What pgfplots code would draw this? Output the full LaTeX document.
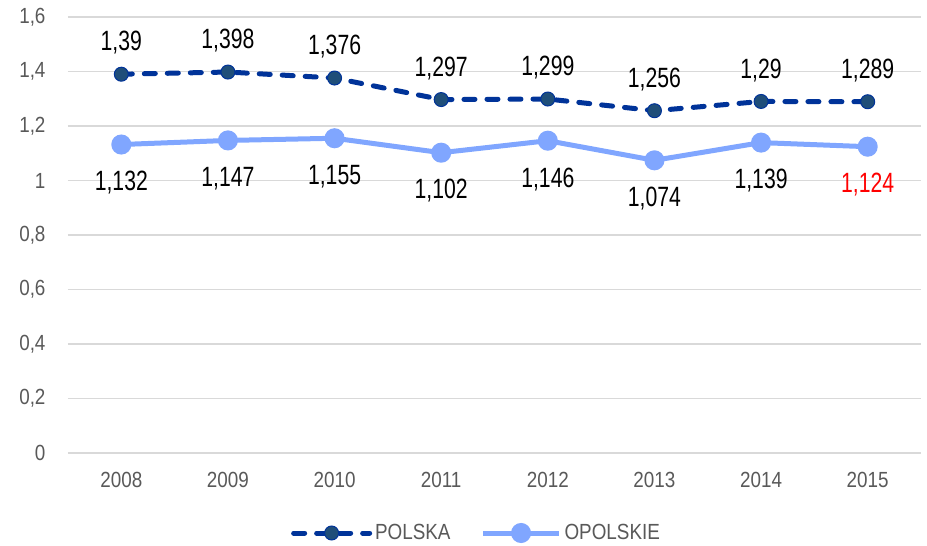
\documentclass[border=0pt]{standalone}
\usepackage{pgfplots}
\pgfplotsset{compat=1.18}
\usepackage{fontspec}
\setmainfont[FakeStretch=0.86]{Liberation Sans}
\newfontfamily\narrowfont[FakeStretch=0.76]{Liberation Sans}
\definecolor{pol}{RGB}{0,51,153}
\definecolor{polfill}{RGB}{31,78,121}
\definecolor{opo}{RGB}{128,166,255}
\definecolor{tickc}{RGB}{89,89,89}
\definecolor{gridc}{RGB}{217,217,217}
\begin{document}
\begin{tikzpicture}[x=1bp,y=1bp]
\begin{axis}[
  at={(0,0)}, anchor=south west,
  scale only axis,
  width=853bp, height=436bp,
  xmin=-0.5, xmax=7.5,
  ymin=0, ymax=1.6,
  xtick={0,...,7},
  xticklabels={2008,2009,2010,2011,2012,2013,2014,2015},
  ytick={0,0.2,...,1.6},
  yticklabels={0,{0,2},{0,4},{0,6},{0,8},1,{1,2},{1,4},{1,6}},
  axis line style={draw=none},
  major tick length=0pt,
  ymajorgrids,
  grid style={gridc, line width=1.2bp},
  tick label style={font=\fontsize{22}{24}\selectfont, text=tickc},
  yticklabel style={xshift=-19bp},
  xticklabel style={yshift=-16bp},
  legend columns=2,
  legend style={draw=none, at={(0.5,-0.1835)}, anchor=center, xshift=-18bp, font=\fontsize{22}{24}\selectfont, text=tickc,
    /tikz/every even column/.append style={column sep=28bp},
    /tikz/every odd column/.append style={column sep=1bp}},
  legend image code/.code={\draw[mark repeat=2,mark phase=2,#1] plot coordinates {(0bp,0bp) (38bp,0bp) (76bp,0bp)};},
  point meta=explicit symbolic,
  nodes near coords,
  every node near coord/.append style={font=\narrowfont\fontsize{28}{30}\selectfont, text=black},
  clip=false,
]
\addplot[pol, line width=5bp, line cap=round, dash pattern=on 11bp off 12bp, mark=*, mark size=7bp,
  mark options={solid, fill=polfill, draw=pol, line width=1bp},
  nodes near coords align={anchor=south}, every node near coord/.append style={yshift=16bp}]
coordinates {(0,1.39) [{1,39}] (1,1.398) [{1,398}] (2,1.376) [{1,376}] (3,1.297) [{1,297}] (4,1.299) [{1,299}] (5,1.256) [{1,256}] (6,1.29) [{1,29}] (7,1.289) [{1,289}]};
\addlegendentry{POLSKA}
\addplot[opo, line width=5bp, mark=*, mark size=7.5bp, mark options={fill=opo, draw=opo},
  nodes near coords align={anchor=north}, every node near coord/.append style={yshift=-21bp}]
coordinates {(0,1.132) [{1,132}] (1,1.147) [{1,147}] (2,1.155) [{1,155}] (3,1.102) [{1,102}] (4,1.146) [{1,146}] (5,1.074) [{1,074}] (6,1.139) [{1,139}] (7,1.124) [{\textcolor{red}{1,124}}]};
\addlegendentry{OPOLSKIE}
\end{axis}
\pgfresetboundingbox
\path[use as bounding box] (-68,-93) rectangle (859,453);
\end{tikzpicture}
\end{document}
